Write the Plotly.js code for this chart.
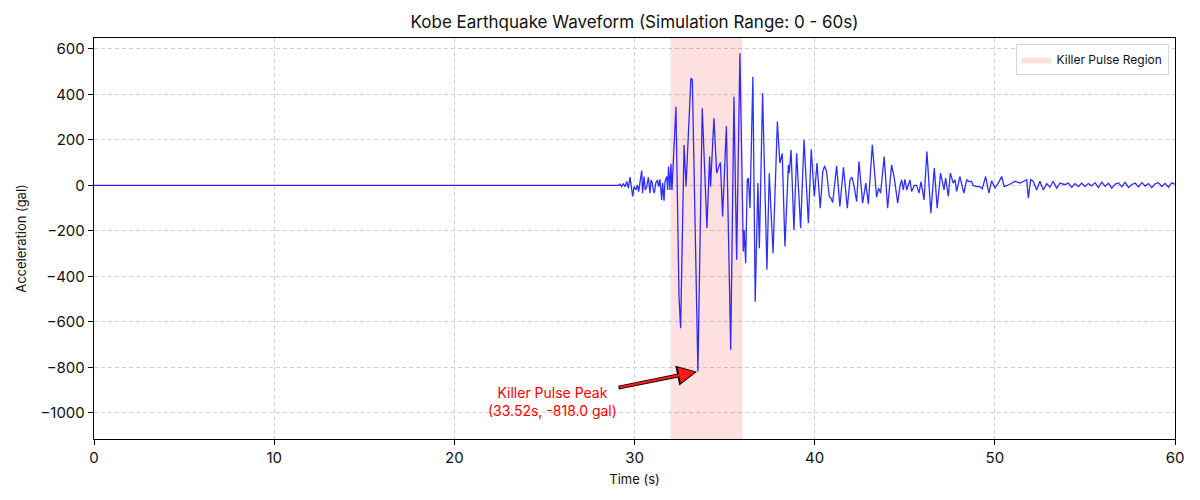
<!DOCTYPE html>
<html>
<head>
<meta charset="utf-8">
<script src="https://cdn.plot.ly/plotly-3.0.1.min.js"></script>
<style>html,body{margin:0;padding:0;background:#fff;}#chart{width:1200px;height:500px;}</style>
</head>
<body>
<div id="chart"></div>
<script>
// Time (s) of each read sample
const timeS = [
  0, 29.0, 29.10, 29.19, 29.29, 29.38, 29.47, 29.57, 29.66, 29.75, 29.84, 29.90, 29.97,
  30.08, 30.16, 30.23, 30.30, 30.40, 30.45, 30.53, 30.60, 30.68, 30.77, 30.86, 30.92,
  30.99, 31.04, 31.10, 31.18, 31.27, 31.34, 31.41, 31.51, 31.56, 31.64, 31.69, 31.79,
  31.84, 31.89, 31.97, 32.02, 32.08, 32.30, 32.47, 32.56, 32.75, 32.86, 33.13, 33.21,
  33.52, 33.76, 34.02, 34.17, 34.22, 34.41, 34.56, 34.71, 34.77, 34.80, 34.89, 35.10,
  35.34, 35.52, 35.67, 35.85, 36.04, 36.09, 36.17, 36.26, 36.32, 36.41, 36.57, 36.70,
  36.85, 36.93, 37.11, 37.35, 37.48, 37.69, 37.93, 38.07, 38.20, 38.35, 38.54, 38.59,
  38.69, 38.85, 39.00, 39.22, 39.41, 39.65, 39.81, 39.98, 40.13, 40.31, 40.45, 40.55,
  40.66, 40.81, 40.90, 41.00, 41.22, 41.40, 41.60, 41.81, 41.96, 42.07, 42.18, 42.33,
  42.46, 42.66, 42.84, 42.98, 43.20, 43.44, 43.55, 43.66, 43.86, 44.05, 44.27, 44.42,
  44.61, 44.74, 44.83, 44.92, 45.01, 45.11, 45.29, 45.38, 45.53, 45.66, 45.79, 45.90,
  46.07, 46.23, 46.45, 46.64, 46.80, 46.99, 47.18, 47.27, 47.42, 47.53, 47.69, 47.79,
  47.88, 48.06, 48.28, 48.44, 48.56, 48.71, 48.80, 48.99, 49.17, 49.30, 49.49, 49.67,
  49.82, 50.01, 50.19, 50.38, 50.52, 50.84, 51.12, 51.40, 51.58, 51.77, 51.86, 51.99,
  52.13, 52.32, 52.50, 52.69, 52.88, 53.06, 53.24, 53.43, 53.62, 53.89, 54.08, 54.27,
  54.45, 54.64, 54.82, 55.01, 55.19, 55.38, 55.56, 55.75, 55.94, 56.12, 56.31, 56.49,
  56.68, 56.86, 57.05, 57.23, 57.42, 57.60, 57.79, 57.97, 58.16, 58.34, 58.53, 58.71,
  58.90, 59.08, 59.27, 59.45, 59.64, 59.82, 60.0
];
// Acceleration (gal) read at each sample
const accelGal = [
  0, 0, 0, 5, -5, 8, -6, 17, -12, 36, -20, -49, -5,
  -20, 2, -27, 10, 65, -34, 39, -20, -5, 36, -34, 24,
  10, -20, -34, 10, 24, -5, 27, -64, 10, -67, 17, 39,
  -20, 83, -20, 95, -20, 346, -489, -628, 178, -5, 471, 465,
  -818, 339, -188, 127, -5, 295, 54, 90, 100, 39, -137, 260,
  -723, 390, -327, 581, -291, -196, -342, 24, 32, -100, 478, -511,
  10, -276, 405, -371, 53, -298, 281, 98, 141, -269, 90, 54,
  156, -196, 141, -188, 200, -166, 159, -49, 98, -100, 61, 86,
  61, -49, -55, -75, 86, -93, 80, -100, 24, 36, 0, -71,
  105, -78, 10, -81, 178, -52, -12, -34, 127, -100, 90, 32,
  -78, 0, 24, -20, 27, -20, 24, -27, 0, 0, -34, 17,
  -64, 149, -122, 76, -100, 54, -20, 32, -49, 54, 10, 24,
  -27, 39, -34, 24, 17, 17, 0, -5, -5, -15, 39, -34,
  20, -10, 10, 39, -5, 5, 18, 10, 18, 25, -56, 25,
  18, -20, 18, -20, 8, -8, 18, -12, 10, 3, 10, -8,
  8, -5, 10, -5, 8, -2, 12, -10, 14, -4, 9, -12,
  6, 11, -6, 13, -9, 4, 10, -7, 12, -3, 8, -10,
  7, 12, -5, 9, -8, 11, 5
];
// Highlighted pulse window and annotated peak
const pulseWindow = [32, 36];
const peakTime = 33.52;
const peakAccel = -818.0;
const xTicks = [0, 10, 20, 30, 40, 50, 60];
const yTicks = [-1000, -800, -600, -400, -200, 0, 200, 400, 600];
const yRange = [-1115, 648];

const fontFam = 'Inter, "Noto Sans", "DejaVu Sans", sans-serif';

const regionTrace = {
  x: [pulseWindow[0], pulseWindow[1], pulseWindow[1], pulseWindow[0], pulseWindow[0]],
  y: [yRange[0], yRange[0], yRange[1], yRange[1], yRange[0]],
  mode: 'lines', fill: 'toself', fillcolor: 'rgba(255,0,0,0.12)',
  line: {width: 0, color: 'rgba(255,0,0,0)'}, hoverinfo: 'skip',
  name: 'Killer Pulse Region', showlegend: true
};
const waveTrace = {
  x: timeS, y: accelGal, mode: 'lines',
  line: {color: 'rgba(0,0,255,0.82)', width: 1.3},
  showlegend: false, name: 'Waveform'
};

const textX = 25.45, textY = -948;
const annText = 'Killer Pulse Peak<br>(33.52s, -818.0 gal)';

const layout = {
  width: 1200, height: 500,
  margin: {l: 94, r: 25, t: 38, b: 61, pad: 0},
  paper_bgcolor: '#fff', plot_bgcolor: '#fff',
  font: {family: fontFam, color: '#111', size: 14},
  title: {text: 'Kobe Earthquake Waveform (Simulation Range: 0 - 60s)', x: 0.5, xref: 'paper', xanchor: 'center',
          y: 1 - 22/500, yref: 'container', yanchor: 'middle', font: {size: 17, family: fontFam, color: '#111'}},
  xaxis: {range: [0, 60], tickvals: xTicks, ticks: 'outside', ticklen: 5, tickwidth: 1, tickcolor: '#000',
          showline: true, linecolor: '#000', linewidth: 1.2, mirror: true, zeroline: false,
          showgrid: true, gridcolor: '#d0d0d0', griddash: '4px,3px', gridwidth: 1,
          tickfont: {size: 15, family: fontFam},
          title: {text: 'Time (s)', font: {size: 13, family: fontFam}, standoff: 8}},
  yaxis: {range: yRange, tickvals: yTicks, ticks: 'outside', ticklen: 5, tickwidth: 1, tickcolor: '#000',
          showline: true, linecolor: '#000', linewidth: 1.2, mirror: true, zeroline: false,
          showgrid: true, gridcolor: '#d0d0d0', griddash: '4px,3px', gridwidth: 1,
          tickfont: {size: 15, family: fontFam},
          title: {text: 'Acceleration (gal)', font: {size: 13, family: fontFam}, standoff: 10}},
  legend: {x: 0.994, xanchor: 'right', y: 0.985, yanchor: 'top', bgcolor: 'rgba(255,255,255,0.9)',
           bordercolor: '#d8d8d8', borderwidth: 1, font: {size: 12, family: fontFam}},
  annotations: [
    {x: peakTime, y: peakAccel, xref: 'x', yref: 'y', ax: textX, ay: textY, axref: 'x', ayref: 'y',
     text: annText, showarrow: true, arrowhead: 2, arrowsize: 1.0,
     arrowwidth: 4, arrowcolor: '#000', standoff: 1, startstandoff: 0,
     font: {color: 'rgba(0,0,0,0)', size: 14, family: fontFam}, align: 'center'},
    {x: peakTime, y: peakAccel, xref: 'x', yref: 'y', ax: textX, ay: textY, axref: 'x', ayref: 'y',
     text: annText, showarrow: true, arrowhead: 2, arrowsize: 1.4,
     arrowwidth: 2.3, arrowcolor: '#ff1a1a', standoff: 3, startstandoff: 1,
     font: {color: '#ff0000', size: 14, family: fontFam}, align: 'center'}
  ]
};

Plotly.newPlot('chart', [regionTrace, waveTrace], layout, {displayModeBar: false, staticPlot: true});
</script>
</body>
</html>
